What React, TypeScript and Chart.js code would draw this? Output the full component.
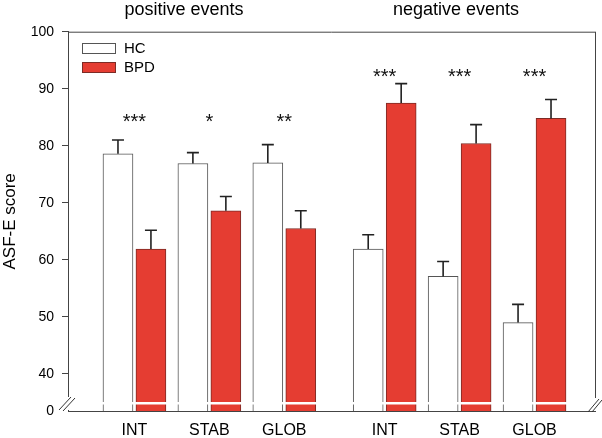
import React, { useEffect, useRef } from 'react';
import { Chart, registerables } from 'chart.js';

Chart.register(...registerables);

// ---- data ----
const categories = ['INT', 'STAB', 'GLOB', 'INT', 'STAB', 'GLOB'];
const groupTitles = ['positive events', 'negative events'];
const hcValues = [78.6, 76.9, 77.0, 61.9, 57.1, 49.0];
const hcErrors = [2.4, 1.9, 3.2, 2.5, 2.6, 3.2];
const bpdValues = [61.9, 68.6, 65.5, 87.5, 80.4, 84.8];
const bpdErrors = [3.3, 2.5, 3.1, 3.4, 3.3, 3.3];
const significance = ['***', '*', '**', '***', '***', '***'];
const significanceLevels = [84.9, 92.9]; // star height per group (score units)
const yTickValues = [40, 50, 60, 70, 80, 90, 100];
const yBreakValue = 33.5; // value at the bottom of the broken axis
const yBreakLabel = '0';
const seriesNames = ['HC', 'BPD'];

// ---- styling ----
const FONT = '"Liberation Sans", Arial, Helvetica, sans-serif';
const RED = '#e53d32';
const RED_BORDER = '#7d2b25';
const AXIS = '#444';
const GROUP_GAP = 0.34;
const BAR_OFFSET = 0.22;
const pos = (i: number) => i + (i >= 3 ? GROUP_GAP : 0);

const decorPlugin = {
  id: 'decor',
  afterDatasetsDraw(chart: any) {
    const { ctx, chartArea, scales } = chart;
    const y = scales.y;
    ctx.save();
    chart.data.datasets.forEach((ds: any, di: number) => {
      const meta = chart.getDatasetMeta(di);
      meta.data.forEach((bar: any, i: number) => {
        const top = y.getPixelForValue(ds.data[i].y + ds.errors[i]);
        ctx.strokeStyle = '#222';
        ctx.lineWidth = 1.6;
        ctx.beginPath();
        ctx.moveTo(bar.x, bar.y);
        ctx.lineTo(bar.x, top);
        ctx.moveTo(bar.x - 6, top);
        ctx.lineTo(bar.x + 6, top);
        ctx.stroke();
      });
    });
    const B = chartArea.bottom;
    ctx.fillStyle = '#fff';
    ctx.fillRect(chartArea.left + 1, B - 9, chartArea.right - chartArea.left - 2, 2.5);
    ctx.restore();
  },
  afterDraw(chart: any) {
    const { ctx, chartArea, scales } = chart;
    const x = scales.x;
    const y = scales.y;
    const L = chartArea.left;
    const R = chartArea.right;
    const T = chartArea.top;
    const B = chartArea.bottom;
    ctx.save();
    ctx.strokeStyle = AXIS;
    ctx.lineWidth = 1;
    ctx.beginPath();
    ctx.moveTo(L, T + 0.5);
    ctx.lineTo(R, T + 0.5);
    ctx.moveTo(R + 0.5, T);
    ctx.lineTo(R + 0.5, B - 13);
    ctx.stroke();
    ctx.fillStyle = '#fff';
    ctx.fillRect(L - 2, B - 14, 4, 13);
    ctx.strokeStyle = '#333';
    ctx.lineWidth = 1;
    ctx.beginPath();
    ctx.moveTo(L - 9, B - 1);
    ctx.lineTo(L + 3, B - 14);
    ctx.moveTo(L - 5, B);
    ctx.lineTo(L + 7, B - 13);
    ctx.moveTo(R - 7, B + 1);
    ctx.lineTo(R + 4, B - 12);
    ctx.moveTo(R - 3, B + 1);
    ctx.lineTo(R + 7, B - 11);
    ctx.stroke();
    // significance stars
    ctx.fillStyle = '#111';
    ctx.font = `20px ${FONT}`;
    ctx.textAlign = 'center';
    ctx.textBaseline = 'alphabetic';
    significance.forEach((s, i) => {
      const lvl = significanceLevels[i < 3 ? 0 : 1];
      ctx.fillText(s, x.getPixelForValue(pos(i)), y.getPixelForValue(lvl) + 10.5);
    });
    // group titles
    ctx.font = `18px ${FONT}`;
    ctx.fillStyle = '#000';
    ctx.fillText(groupTitles[0], 184, 15);
    ctx.fillText(groupTitles[1], 456, 15);
    // legend
    const items = [
      { fill: '#fff', stroke: '#555' },
      { fill: RED, stroke: RED_BORDER },
    ];
    ctx.font = `15px ${FONT}`;
    ctx.textAlign = 'left';
    ctx.textBaseline = 'middle';
    items.forEach((it, k) => {
      const by = 43 + k * 19;
      ctx.fillStyle = it.fill;
      ctx.fillRect(82, by, 34, 10);
      ctx.strokeStyle = it.stroke;
      ctx.lineWidth = 1;
      ctx.strokeRect(82.5, by + 0.5, 33, 10);
      ctx.fillStyle = '#000';
      ctx.fillText(seriesNames[k], 124, by + 5.5);
    });
    ctx.restore();
  },
};

export default function App() {
  const ref = useRef<HTMLCanvasElement | null>(null);

  useEffect(() => {
    const canvas = ref.current;
    if (!canvas) return;
    const chart = new Chart(canvas, {
      type: 'bar',
      data: {
        datasets: [
          {
            label: seriesNames[0],
            data: hcValues.map((v, i) => ({ x: pos(i) - BAR_OFFSET, y: v })),
            errors: hcErrors,
            backgroundColor: '#ffffff',
            borderColor: '#555',
            borderWidth: 1,
          } as any,
          {
            label: seriesNames[1],
            data: bpdValues.map((v, i) => ({ x: pos(i) + BAR_OFFSET, y: v })),
            errors: bpdErrors,
            backgroundColor: RED,
            borderColor: RED_BORDER,
            borderWidth: 1,
          } as any,
        ],
      },
      options: {
        responsive: false,
        animation: false,
        grouped: false,
        barThickness: 30,
        layout: { padding: { left: 0, top: 31.7, right: 7, bottom: 0 } },
        plugins: {
          legend: { display: false },
          title: { display: false },
          tooltip: { enabled: false },
        },
        scales: {
          x: {
            type: 'linear',
            min: -0.887,
            max: 6.147,
            offset: false,
            grid: { display: true, drawOnChartArea: false, drawTicks: false, offset: false },
            border: { display: true, color: AXIS, width: 1 },
            afterBuildTicks: (s: any) => {
              s.ticks = categories.map((_, i) => ({ value: pos(i) }));
            },
            afterFit: (s: any) => {
              s.height = 27;
            },
            ticks: {
              autoSkip: false,
              maxRotation: 0,
              padding: 10,
              color: '#000',
              font: { family: FONT, size: 16 },
              callback: (_v: any, i: number) => categories[i],
            },
          },
          y: {
            type: 'linear',
            min: yBreakValue,
            max: 100,
            beginAtZero: false,
            grid: {
              display: true,
              drawOnChartArea: false,
              drawTicks: true,
              tickLength: 6,
              tickColor: (c: any) => (c.tick && c.tick.value === yBreakValue ? 'rgba(0,0,0,0)' : AXIS),
            },
            border: { display: true, color: AXIS, width: 1 },
            afterBuildTicks: (s: any) => {
              s.ticks = [yBreakValue, ...yTickValues].map((v) => ({ value: v }));
            },
            afterFit: (s: any) => {
              s.width = 68;
            },
            title: {
              display: true,
              text: 'ASF-E score',
              color: '#000',
              font: { family: FONT, size: 17 },
              padding: { top: 0, bottom: 0 },
            },
            ticks: {
              padding: 8,
              color: '#000',
              font: { family: FONT, size: 14 },
              callback: (v: any) => (v === yBreakValue ? yBreakLabel : String(v)),
            },
          },
        },
      } as any,
      plugins: [decorPlugin],
    });
    return () => chart.destroy();
  }, []);

  return (
    <div style={{ position: 'absolute', left: 0, top: 0, width: 602, height: 438, background: '#fff' }}>
      <canvas ref={ref} width={602} height={438} />
    </div>
  );
}
